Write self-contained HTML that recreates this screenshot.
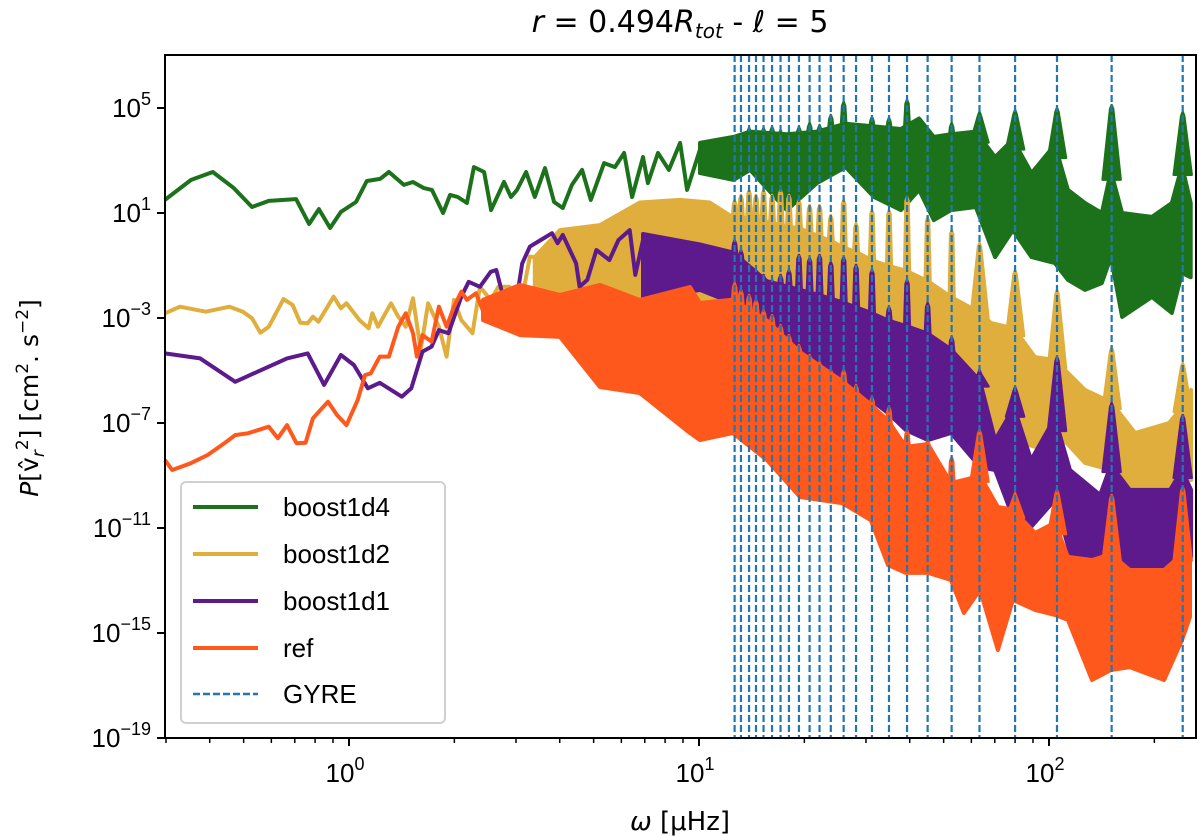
<!DOCTYPE html>
<html><head><meta charset="utf-8"><style>
html,body{margin:0;padding:0;background:#fff}
svg{display:block;font-family:"Liberation Sans","DejaVu Sans",sans-serif}
</style></head><body>
<svg id="chart" width="1200" height="836" viewBox="0 0 1200 836">
<g id="series"></g>
<g id="gyre"></g>
<rect x="165" y="55" width="1031" height="683" fill="none" stroke="#000" stroke-width="2"/>
<g id="axes"></g>
<text x="680" y="32" font-size="30" text-anchor="middle" font-family="'DejaVu Sans',sans-serif"><tspan font-style="italic">r</tspan> = 0.494<tspan font-style="italic">R</tspan><tspan font-style="italic" font-size="20" dy="6">tot</tspan><tspan dy="-6"> - </tspan><tspan font-style="italic">ℓ</tspan> = 5</text>
<text x="680" y="830" font-size="26" text-anchor="middle" font-family="'DejaVu Sans',sans-serif"><tspan font-style="italic">ω</tspan> [μHz]</text>
<text transform="translate(38,398) rotate(-90)" font-size="25" text-anchor="middle" font-family="'DejaVu Sans',sans-serif"><tspan font-style="italic">P</tspan>[v̂<tspan font-style="italic" font-size="17" dy="6">r</tspan><tspan font-size="17" dy="-16">2</tspan><tspan dy="10">] [cm</tspan><tspan font-size="17" dy="-10">2</tspan><tspan dy="10">. s</tspan><tspan font-size="17" dy="-10">−2</tspan><tspan dy="10">]</tspan></text>
<g>
<rect x="181" y="482" width="264" height="241" rx="5" fill="#fff" fill-opacity="0.85" stroke="#d0d0d0" stroke-width="2"/>
<g><line x1="193" y1="507" x2="258" y2="507" stroke="#1c721b" stroke-width="4"/><text x="283" y="516" font-size="26">boost1d4</text></g>
<g><line x1="193" y1="554" x2="258" y2="554" stroke="#dfae3c" stroke-width="4"/><text x="283" y="563" font-size="26">boost1d2</text></g>
<g><line x1="193" y1="601" x2="258" y2="601" stroke="#5c1a8c" stroke-width="4"/><text x="283" y="610" font-size="26">boost1d1</text></g>
<g><line x1="193" y1="648" x2="258" y2="648" stroke="#ff581c" stroke-width="4"/><text x="283" y="657" font-size="26">ref</text></g>
<g><line x1="193" y1="694" x2="258" y2="694" stroke="#1f77b4" stroke-width="2.5" stroke-dasharray="7,3"/><text x="283" y="703" font-size="26">GYRE</text></g>
</g>
</svg>
<script>
// log10(frequency in μHz) and log10(power)
const greenLineF=[-0.526,-0.451,-0.389,-0.329,-0.277,-0.229,-0.151,-0.114,-0.086,-0.054,-0.023,0.020,0.051,0.089,0.114,0.157,0.183,0.214,0.237,0.269,0.289,0.311,0.337,0.357,0.386,0.406,0.443,0.463,0.480,0.506,0.531,0.560,0.586,0.611,0.637,0.666,0.691,0.729,0.760,0.786,0.809,0.840,0.854,0.883,0.914,0.946,0.966,1.009];
const greenLineP=[1.50,2.26,2.56,1.95,1.23,1.46,1.53,0.58,1.15,0.43,1.04,1.42,2.22,2.30,2.56,2.07,2.18,1.95,1.88,1.00,1.69,1.61,1.38,2.75,2.56,1.11,2.18,1.61,1.88,2.56,1.61,2.71,1.42,1.19,2.07,2.64,1.50,2.90,2.75,3.29,1.61,3.13,2.14,3.29,2.64,3.67,1.88,3.67];
const greenBandF=[1.003,1.099,1.146,1.251,1.337,1.419,1.500,1.577,1.629,1.671,1.720,1.791,1.846,1.897,1.950,2.017,2.054,2.103,2.151,2.177,2.209,2.294,2.351,2.380,2.405];
const greenHi=[3.67,3.90,4.10,4.00,4.10,4.40,4.30,4.20,4.60,3.90,4.00,4.10,3.13,3.80,2.52,3.60,1.88,1.38,1.00,2.60,1.00,0.85,1.38,2.80,1.38];
const greenLo=[2.52,2.26,2.64,1.11,2.14,2.75,1.61,1.11,1.88,0.73,1.11,1.23,-0.68,0.35,-0.68,-0.91,-1.55,-1.93,-1.67,-0.68,-2.96,-2.20,-2.81,-1.29,-1.45];

const goldLineF=[-0.526,-0.483,-0.409,-0.341,-0.303,-0.277,-0.253,-0.229,-0.187,-0.161,-0.139,-0.118,-0.103,-0.087,-0.044,-0.023,-0.007,0.030,0.056,0.067,0.083,0.120,0.141,0.162,0.183,0.205,0.226,0.257,0.279,0.300,0.321,0.353,0.374,0.405,0.427,0.458,0.490,0.517,0.531];
const goldLineP=[-2.82,-2.57,-2.76,-2.57,-2.76,-3.01,-3.56,-3.33,-2.28,-2.50,-3.18,-3.20,-2.95,-3.14,-2.19,-2.63,-2.44,-3.08,-3.39,-2.82,-3.33,-2.44,-2.95,-3.33,-2.25,-4.22,-2.44,-3.33,-4.47,-2.31,-3.08,-3.58,-1.81,-2.31,-1.81,-1.81,-2.57,-0.66,-0.68];
const goldBandF=[0.531,0.603,0.717,0.831,0.946,1.031,1.089,1.137,1.289,1.383,1.409,1.451,1.494,1.537,1.591,1.654,1.720,1.803,1.834,1.900,1.960,2.017,2.103,2.177,2.246,2.343,2.380,2.406];
const goldHi=[-0.68,0.35,0.54,1.40,1.50,1.40,0.90,0.80,0.40,-0.10,-0.30,-0.50,-0.80,-1.00,-1.20,-1.60,-2.20,-2.80,-3.19,-3.40,-4.49,-4.60,-5.74,-6.20,-7.38,-7.00,-6.40,-5.74];
const goldLo=[-2.31,-3.46,-2.31,-3.08,-2.31,-3.46,-4.60,-4.98,-5.55,-5.74,-5.82,-5.93,-5.93,-5.93,-6.12,-6.31,-6.77,-7.27,-8.14,-7.65,-7.91,-7.27,-8.52,-8.79,-9.93,-9.55,-8.79,-9.17];

const purpleLineF=[-0.526,-0.425,-0.325,-0.177,-0.118,-0.071,-0.023,0.014,0.054,0.088,0.151,0.178,0.210,0.236,0.257,0.284,0.321,0.342,0.374,0.405,0.421,0.443,0.469,0.495,0.517,0.548,0.580,0.596,0.611,0.649,0.659,0.681,0.707,0.744,0.770,0.802,0.818,0.840];
const purpleLineP=[-4.35,-4.54,-5.43,-4.54,-4.35,-5.55,-4.41,-4.79,-5.68,-5.47,-6.00,-5.68,-4.28,-4.09,-3.46,-3.58,-2.19,-1.62,-1.81,-1.24,-1.17,-2.31,-3.14,-0.92,-0.28,-0.03,0.23,-0.15,0.16,-0.92,-1.81,-1.55,-0.41,-0.79,-0.03,0.35,-1.36,-0.03];
const purpleBandF=[0.840,1.003,1.097,1.194,1.280,1.337,1.409,1.491,1.540,1.591,1.654,1.720,1.803,1.846,1.900,1.949,2.017,2.060,2.146,2.177,2.231,2.346,2.380,2.406];
const purpleHi=[0.20,-0.20,-0.50,-1.60,-1.90,-2.10,-2.40,-2.80,-3.10,-3.30,-3.60,-4.20,-5.40,-7.65,-6.40,-8.41,-6.80,-8.79,-9.74,-8.60,-9.55,-9.55,-8.80,-9.55];
const purpleLo=[-2.31,-1.93,-2.43,-3.84,-4.49,-4.87,-5.48,-6.12,-6.62,-7.27,-7.65,-7.38,-8.68,-8.79,-10.70,-10.96,-9.93,-11.95,-12.98,-12.22,-12.49,-12.49,-12.22,-12.10];

const refLineF=[-0.526,-0.505,-0.452,-0.404,-0.356,-0.325,-0.288,-0.229,-0.203,-0.177,-0.150,-0.124,-0.103,-0.060,-0.034,-0.007,0.025,0.046,0.062,0.088,0.114,0.141,0.162,0.183,0.194,0.210,0.236,0.257,0.279,0.300,0.321,0.337,0.363,0.384];
const refLineP=[-8.41,-8.79,-8.53,-8.22,-7.77,-7.46,-7.39,-7.14,-7.58,-7.08,-7.77,-7.75,-6.82,-6.19,-6.70,-7.08,-6.12,-5.17,-5.11,-4.47,-4.47,-3.33,-2.82,-3.58,-4.47,-3.65,-3.90,-2.57,-3.33,-2.57,-2.00,-2.31,-2.06,-2.76];
const refBandF=[0.383,0.489,0.603,0.717,0.831,0.974,1.003,1.097,1.194,1.289,1.409,1.491,1.540,1.591,1.654,1.720,1.757,1.803,1.854,1.897,1.960,2.017,2.054,2.123,2.177,2.231,2.329,2.380,2.403];
const refHi=[-2.31,-1.74,-2.12,-1.74,-2.31,-1.82,-2.43,-2.30,-3.10,-4.30,-5.40,-6.30,-6.90,-7.91,-7.80,-9.29,-9.17,-9.00,-10.20,-10.30,-11.19,-10.80,-12.10,-12.22,-12.00,-12.60,-12.60,-12.00,-12.10];
const refLo=[-3.08,-3.65,-3.72,-5.63,-5.86,-7.38,-7.65,-7.38,-8.41,-9.82,-10.05,-10.70,-12.41,-12.71,-12.71,-12.98,-14.24,-13.36,-15.65,-13.74,-14.12,-14.31,-14.50,-16.79,-16.41,-16.30,-16.79,-15.27,-14.39];

// GYRE mode frequencies (μHz)
const gyreFreqs=[12.64,13.18,13.9,14.55,15.29,16.17,17.1,18.07,19.3,20.7,22.1,23.8,25.9,28.1,31.2,34.9,39.3,45.0,52.7,63.3,80.0,105.4,151,241];
// peak power (log10) of each series at each GYRE mode
const greenPeaks=[3.90,3.97,4.24,4.16,4.24,4.28,4.16,4.05,4.28,4.43,4.35,4.73,5.23,4.16,4.66,4.62,5.31,4.16,4.43,4.85,4.92,5.00,5.11,4.85];
const goldPeaks=[1.50,1.69,1.88,1.69,1.88,1.69,1.88,1.69,1.50,1.30,1.30,0.92,1.50,0.62,1.11,1.11,1.61,0.85,0.35,-0.14,-1.17,-1.93,-4.11,-4.71];
const purplePeaks=[-0.03,-0.41,-0.98,-1.17,-1.36,-1.55,-1.36,-1.17,-0.60,-0.71,-0.60,-0.87,-0.68,-0.98,-1.17,-2.58,-1.55,-2.43,-3.72,-4.98,-5.63,-4.49,-6.24,-6.70];
const refPeaks=[-1.67,-1.93,-2.12,-2.31,-2.70,-2.89,-3.27,-3.65,-4.03,-4.41,-4.68,-4.98,-4.98,-5.55,-6.01,-6.39,-7.27,-7.65,-8.30,-7.27,-9.67,-9.55,-9.74,-9.44];

const xTickVals=[1,10,100];
const xTickLabels=["0","1","2"];
const yTickVals=[5,1,-3,-7,-11,-15,-19];
const yTickLabels=["5","1","−3","−7","−11","−15","−19"];

const NS="http://www.w3.org/2000/svg";
const X0=165,X1=1196,Y0=55,Y1=738;
const lfMin=-0.5257,lfMax=2.4200,lpMin=-19,lpMax=7.019;
function sx(lf){return X0+(lf-lfMin)/(lfMax-lfMin)*(X1-X0);}
function sy(lp){return Y1-(lp-lpMin)/(lpMax-lpMin)*(Y1-Y0);}
function mk(tag,attrs,parent){const e=document.createElementNS(NS,tag);for(const k in attrs)e.setAttribute(k,attrs[k]);parent.appendChild(e);return e;}
function interp(xs,ys,x){
 if(x<=xs[0])return ys[0];
 for(let i=1;i<xs.length;i++){if(x<=xs[i]){const t=(x-xs[i-1])/(xs[i]-xs[i-1]);return ys[i-1]+t*(ys[i]-ys[i-1]);}}
 return ys[ys.length-1];
}

const series=document.getElementById('series');
const defs=[
 {name:'boost1d4',c:'#1c721b',lf:greenLineF,lp:greenLineP,bf:greenBandF,hi:greenHi,lo:greenLo,pk:greenPeaks},
 {name:'boost1d2',c:'#dfae3c',lf:goldLineF,lp:goldLineP,bf:goldBandF,hi:goldHi,lo:goldLo,pk:goldPeaks},
 {name:'boost1d1',c:'#5c1a8c',lf:purpleLineF,lp:purpleLineP,bf:purpleBandF,hi:purpleHi,lo:purpleLo,pk:purplePeaks},
 {name:'ref',c:'#ff581c',lf:refLineF,lp:refLineP,bf:refBandF,hi:refHi,lo:refLo,pk:refPeaks}
];
defs.forEach(d=>{
 const g=mk('g',{},series);
 
 
 const lpts=d.lf.map((f,i)=>sx(f).toFixed(1)+','+sy(d.lp[i]).toFixed(1)).join(' ');
 const pl=mk('polyline',{points:lpts,fill:'none',stroke:d.c,'stroke-width':4,'stroke-linejoin':'round'},g);
 
 
 const up=d.bf.map((f,i)=>sx(f).toFixed(1)+','+sy(d.hi[i]).toFixed(1));
 const dn=d.bf.map((f,i)=>sx(f).toFixed(1)+','+sy(d.lo[i]).toFixed(1)).reverse();
 const pg=mk('polygon',{points:up.concat(dn).join(' '),fill:d.c,stroke:d.c,'stroke-width':4,'stroke-linejoin':'round'},g);
 
 
 gyreFreqs.forEach((f,i)=>{
  const lf=Math.log10(f);
  const x=sx(lf);
  const base=interp(d.bf,d.hi,lf);
  const yb=sy(base)+6, yp=sy(d.pk[i]);
  const w=lf>1.75?9:3;
  const sp=mk('polygon',{points:(x-w)+','+yb+' '+(x-1.5)+','+(yp+4)+' '+x+','+yp+' '+(x+1.5)+','+(yp+4)+' '+(x+w)+','+yb,fill:d.c,stroke:d.c,'stroke-width':2.5,'stroke-linejoin':'round'},g);
  
  
 });
});

const gy=document.getElementById('gyre');
gyreFreqs.forEach(f=>{
 const x=sx(Math.log10(f));
 const l=mk('line',{x1:x,x2:x,y1:Y0,y2:Y1,stroke:'#1f77b4','stroke-width':2.2,'stroke-dasharray':'7,3'},gy);
 
 
});

const ax=document.getElementById('axes');
xTickVals.forEach((v,i)=>{
 const x=sx(Math.log10(v));
 mk('line',{x1:x,x2:x,y1:Y1,y2:Y1+8,stroke:'#000','stroke-width':2},ax);
 const t=mk('text',{x:x-4,y:Y1+44,'font-size':26,'text-anchor':'middle'},ax);
 
 
 t.textContent='10';
 const s=mk('tspan',{'font-size':18,dy:-12},t);s.textContent=xTickLabels[i];
});
[0.1,1,10,100].forEach(dec=>{
 for(let k=2;k<=9;k++){
  const lf=Math.log10(dec*k);
  if(lf<lfMin-0.001||lf>lfMax)continue;
  const x=sx(lf);
  mk('line',{x1:x,x2:x,y1:Y1,y2:Y1+5,stroke:'#000','stroke-width':1.5},ax);
 }
});
yTickVals.forEach((v,i)=>{
 const y=sy(v);
 mk('line',{x1:X0-8,x2:X0,y1:y,y2:y,stroke:'#000','stroke-width':2},ax);
 const t=mk('text',{x:X0-14,y:y+9,'font-size':26,'text-anchor':'end'},ax);
 
 
 t.textContent='10';
 const s=mk('tspan',{'font-size':18,dy:-12},t);s.textContent=yTickLabels[i];
});
</script>
</body></html>
